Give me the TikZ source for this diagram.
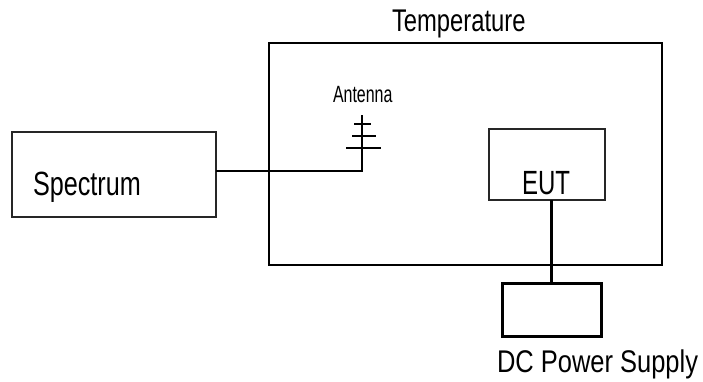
\documentclass[tikz,border=0pt]{standalone}
\usepackage{fontspec}
\setmainfont{Liberation Sans}
\newcommand{\lbltxt}[3]{\fontsize{#2pt}{#2pt}\selectfont\scalebox{#1}[1.12]{#3}}
\begin{document}
\begin{tikzpicture}[x=1pt,y=-1pt,
  box/.style={draw, inner sep=0pt, outer sep=0pt, anchor=north west},
  lbl/.style={inner sep=0pt, outer sep=0pt, anchor=base west}]
\useasboundingbox (0,0) rectangle (703,382);
% boxes
\node[box, line width=2pt, minimum width=393pt, minimum height=222pt] (chamber) at (269,43) {};
\node[box, line width=1.4pt, draw=black!85, minimum width=204pt, minimum height=85pt] (spec) at (12,132) {};
\node[box, line width=1.4pt, draw=black!85, minimum width=116pt, minimum height=71pt] (eut) at (489,129) {};
\node[box, line width=3pt, minimum width=99pt, minimum height=53pt] (dc) at (502,283) {};
% texts
\node[lbl] (ttemp) at (392,32) {\lbltxt{0.85}{28}{Temperature}};
\node[lbl] (tant) at (333,103) {\lbltxt{0.76}{21}{Antenna}};
\node[lbl] (tspec) at (33,195) {\lbltxt{0.84}{30}{Spectrum}};
\node[lbl] (teut) at (522,194) {\lbltxt{0.80}{30}{EUT}};
\node[lbl] (tdc) at (497,372) {\lbltxt{0.91}{28}{DC Power Supply}};
% antenna
\coordinate (ant) at (362,171);
\coordinate (anttop) at (362,115);
\coordinate (b1) at (362,124);
\coordinate (b2) at (362,136);
\coordinate (b3) at (362,148);
\draw[line width=1.4pt] (spec.east |- ant) -- (ant) -- (anttop);
\draw[line width=2.4pt] ([xshift=-8pt]b1) -- ([xshift=9pt]b1);
\draw[line width=1.4pt] ([xshift=-10pt]b2) -- ([xshift=14pt]b2);
\draw[line width=1.4pt] ([xshift=-16pt]b3) -- ([xshift=19pt]b3);
% power line
\draw[line width=3pt] (dc.north |- eut.south) -- (dc.north);
\end{tikzpicture}
\end{document}
